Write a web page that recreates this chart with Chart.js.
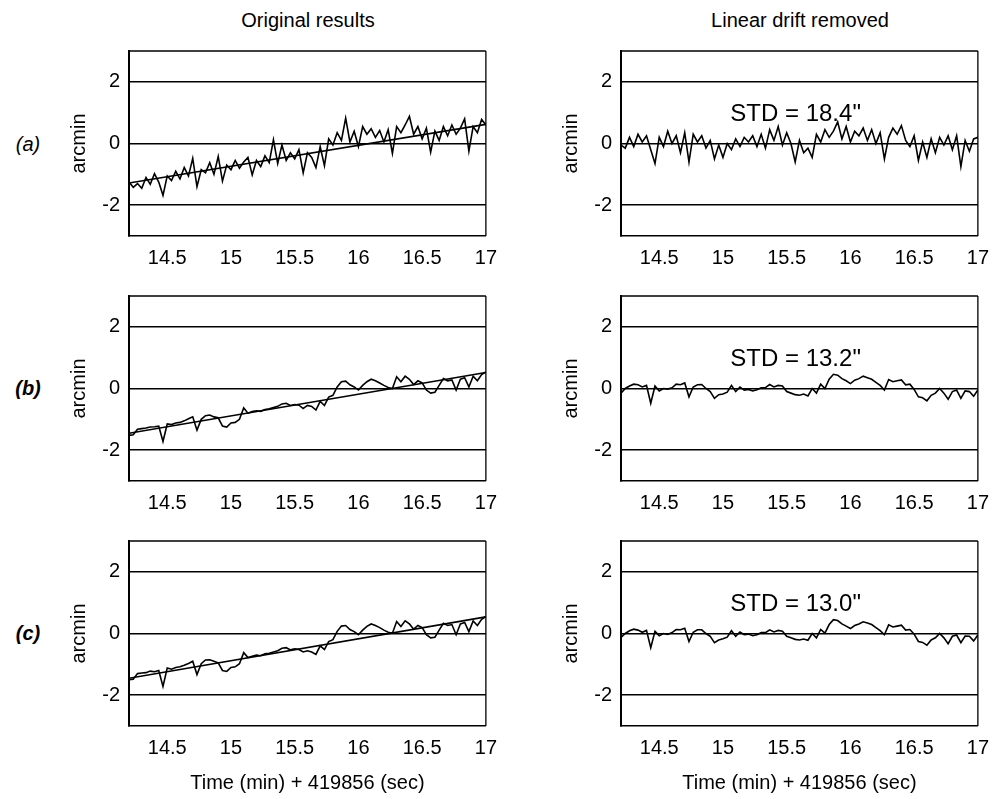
<!DOCTYPE html>
<html>
<head>
<meta charset="utf-8">
<script src="https://cdn.jsdelivr.net/npm/chart.js@4.4.0/dist/chart.umd.min.js"></script>
<style>
  html, body { margin: 0; padding: 0; background: #fff; }
  body { width: 996px; height: 799px; position: relative; overflow: hidden; font-family: "Liberation Sans", Arial, sans-serif; }
  canvas { position: absolute; }
  .lbl { position: absolute; font-size: 20px; color: #000; white-space: nowrap; transform: translate(-50%, -50%); }
</style>
</head>
<body>
<div class="lbl" style="left:308px; top:20px;">Original results</div>
<div class="lbl" style="left:800px; top:20px;">Linear drift removed</div>
<div class="lbl" style="left:28px; top:144px; font-style:italic;">(a)</div>
<div class="lbl" style="left:28px; top:388px; font-style:italic; font-weight:bold;">(b)</div>
<div class="lbl" style="left:28px; top:633px; font-style:italic; font-weight:bold;">(c)</div>

<canvas id="pa1"></canvas><canvas id="pa2"></canvas>
<canvas id="pb1"></canvas><canvas id="pb2"></canvas>
<canvas id="pc1"></canvas><canvas id="pc2"></canvas>

<script>
// sampling: every 2 s from 14.2 min to 17.0 min
const t0 = 14.2;
const dt = 1 / 30;
const xTicks = [14.5, 15, 15.5, 16, 16.5, 17];
const yTicks = [-2, 0, 2];
const trendTimes = [14.2, 17.0];

// (a) original results + linear fit
const rawA = [-1.25, -1.42, -1.30, -1.45, -1.10, -1.32, -0.98, -1.25, -1.68, -1.05,
  -1.20, -0.90, -1.15, -0.78, -1.05, -0.48, -1.40, -0.85, -0.95, -0.62,
  -1.00, -0.42, -1.22, -0.70, -0.85, -0.55, -0.80, -0.60, -0.45, -1.02,
  -0.55, -0.75, -0.40, -0.62, 0.12, -0.65, -0.05, -0.55, -0.30, -0.50,
  -0.20, -0.95, -0.30, -0.45, -0.78, -0.10, -0.72, 0.15, -0.05, 0.35,
  0.10, 0.82, 0.05, 0.40, -0.10, 0.55, 0.30, 0.48, 0.20, 0.42,
  0.05, 0.45, -0.32, 0.55, 0.35, 0.60, 0.88, 0.30, 0.55, 0.15,
  0.50, -0.28, 0.40, 0.10, 0.55, 0.25, 0.60, 0.30, 0.50, 0.80,
  -0.25, 0.55, 0.35, 0.78, 0.60];
const trendA = [-1.28, 0.62];
const resA = [-0.05, -0.15, 0.20, -0.10, 0.30, 0.05, 0.25, -0.20, -0.65, 0.20,
  -0.10, 0.40, 0.00, 0.25, -0.30, 0.35, -0.60, 0.30, 0.05, 0.25,
  -0.15, 0.10, -0.50, -0.05, -0.45, 0.00, -0.20, 0.15, -0.10, 0.20,
  0.05, 0.25, -0.10, 0.30, -0.15, 0.45, 0.10, 0.55, -0.05, 0.35,
  0.00, -0.60, 0.10, -0.30, -0.15, -0.45, 0.30, 0.05, 0.45, 0.20,
  0.40, 0.70, 0.15, 0.55, 0.05, 0.40, 0.25, 0.50, 0.10, 0.45,
  0.00, 0.35, -0.50, 0.20, 0.50, 0.30, 0.58, 0.10, -0.10, 0.25,
  -0.55, 0.05, -0.45, 0.15, -0.30, 0.20, -0.05, 0.25, -0.20, 0.25,
  -0.75, 0.10, -0.25, 0.15, 0.20];

// (b)
const rawB = [-1.52, -1.50, -1.32, -1.30, -1.28, -1.25, -1.24, -1.22, -1.72, -1.15,
  -1.17, -1.12, -1.10, -1.05, -0.98, -0.92, -1.35, -1.00, -0.88, -0.86,
  -0.92, -0.95, -1.22, -1.25, -1.12, -1.10, -1.00, -0.63, -0.80, -0.75,
  -0.72, -0.74, -0.68, -0.66, -0.62, -0.58, -0.50, -0.48, -0.55, -0.52,
  -0.54, -0.65, -0.55, -0.58, -0.70, -0.42, -0.55, -0.28, -0.22, 0.05,
  0.22, 0.24, 0.12, 0.05, -0.05, 0.10, 0.22, 0.30, 0.25, 0.18,
  0.10, 0.03, 0.00, 0.38, 0.22, 0.40, 0.30, 0.13, 0.25, 0.18,
  -0.05, -0.15, -0.12, 0.10, 0.32, 0.25, 0.28, -0.05, 0.30, 0.35,
  0.05, 0.40, 0.25, 0.45, 0.54];
const trendB = [-1.45, 0.52];
const resB = [-0.15, 0.00, 0.08, 0.14, 0.12, 0.05, 0.10, -0.48, 0.08, -0.08,
  0.00, -0.02, 0.02, 0.14, 0.12, 0.18, -0.27, 0.05, 0.12, 0.13,
  0.00, -0.10, -0.32, -0.20, -0.18, -0.12, 0.10, -0.10, 0.05, -0.05,
  -0.03, -0.08, -0.04, 0.02, 0.03, 0.13, 0.05, 0.10, 0.08, -0.10,
  -0.15, -0.20, -0.22, -0.18, -0.24, 0.00, -0.15, 0.14, 0.00, 0.30,
  0.46, 0.43, 0.32, 0.25, 0.16, 0.27, 0.32, 0.40, 0.35, 0.30,
  0.20, 0.10, -0.05, 0.29, 0.22, 0.25, 0.28, 0.12, 0.14, -0.03,
  -0.27, -0.30, -0.40, -0.22, -0.15, 0.00, -0.15, -0.35, -0.10, -0.05,
  -0.32, -0.08, -0.10, -0.25, -0.05];

// (c)
const rawC = [-1.50, -1.48, -1.30, -1.28, -1.27, -1.22, -1.24, -1.20, -1.72, -1.12,
  -1.16, -1.10, -1.08, -1.03, -0.97, -0.90, -1.33, -0.98, -0.86, -0.85,
  -0.90, -0.95, -1.20, -1.23, -1.10, -1.08, -0.98, -0.62, -0.78, -0.74,
  -0.70, -0.72, -0.66, -0.64, -0.60, -0.56, -0.48, -0.46, -0.53, -0.50,
  -0.52, -0.60, -0.56, -0.60, -0.68, -0.40, -0.52, -0.26, -0.20, 0.07,
  0.24, 0.26, 0.13, 0.06, -0.04, 0.11, 0.23, 0.31, 0.26, 0.19,
  0.11, 0.04, 0.01, 0.39, 0.23, 0.41, 0.31, 0.14, 0.26, 0.19,
  -0.04, -0.14, -0.12, 0.11, 0.33, 0.26, 0.29, -0.04, 0.31, 0.36,
  0.06, 0.41, 0.26, 0.46, 0.55];
const trendC = [-1.45, 0.54];
const resC = [-0.13, 0.00, 0.09, 0.14, 0.11, 0.04, 0.10, -0.46, 0.07, -0.07,
  0.00, -0.03, 0.03, 0.13, 0.12, 0.17, -0.26, 0.04, 0.12, 0.12,
  0.00, -0.09, -0.30, -0.21, -0.17, -0.12, 0.09, -0.09, 0.05, -0.04,
  -0.02, -0.07, -0.04, 0.03, 0.03, 0.12, 0.05, 0.10, 0.07, -0.09,
  -0.14, -0.19, -0.21, -0.18, -0.22, 0.00, -0.14, 0.13, 0.01, 0.29,
  0.45, 0.42, 0.31, 0.24, 0.16, 0.26, 0.31, 0.38, 0.34, 0.29,
  0.19, 0.09, -0.04, 0.28, 0.21, 0.24, 0.27, 0.11, 0.13, -0.02,
  -0.26, -0.29, -0.38, -0.21, -0.14, 0.00, -0.14, -0.33, -0.09, -0.05,
  -0.30, -0.08, -0.09, -0.24, -0.05];

const stdLabels = ['STD = 18.4"', 'STD = 13.2"', 'STD = 13.0"'];

const FONT = '"Liberation Sans", Arial, sans-serif';
const PAD_T = 20, PAD_R = 20, Y_W = 129, PLOT_W = 358, PLOT_H = 186;
const times = rawA.map((_, i) => t0 + i * dt);

// right and top edges of the box
const framePlugin = {
  id: 'frame',
  afterDatasetsDraw(chart) {
    const { ctx, chartArea: a } = chart;
    ctx.save();
    ctx.strokeStyle = '#000';
    ctx.lineWidth = 1.3;
    ctx.beginPath();
    ctx.moveTo(a.right, a.top);
    ctx.lineTo(a.right, a.bottom);
    ctx.moveTo(a.left, a.top);
    ctx.lineTo(a.right, a.top);
    ctx.stroke();
    ctx.restore();
  }
};

const stdPlugin = {
  id: 'stdText',
  afterDatasetsDraw(chart, args, opts) {
    if (!opts.text) return;
    const { ctx, scales } = chart;
    ctx.save();
    ctx.fillStyle = '#000';
    ctx.font = '24px ' + FONT;
    ctx.textAlign = 'center';
    ctx.textBaseline = 'alphabetic';
    ctx.fillText(opts.text, scales.x.getPixelForValue(15.57), scales.y.getPixelForValue(0.74));
    ctx.restore();
  }
};

function makePanel(id, left, plotTop, values, trend, std, xTitle) {
  const xH = xTitle ? 73 : 40;
  const cv = document.getElementById(id);
  cv.width = Y_W + PLOT_W + PAD_R;
  cv.height = PAD_T + PLOT_H + xH;
  cv.style.left = left + 'px';
  cv.style.top = (plotTop - PAD_T) + 'px';

  const datasets = [{
    data: values.map((v, i) => ({ x: times[i], y: v })),
    borderColor: '#000', borderWidth: 1.6, pointRadius: 0, tension: 0
  }];
  if (trend) {
    datasets.push({
      data: trend.map((v, i) => ({ x: trendTimes[i], y: v })),
      borderColor: '#000', borderWidth: 1.6, pointRadius: 0
    });
  }

  return new Chart(cv, {
    type: 'line',
    data: { datasets },
    options: {
      responsive: false,
      animation: false,
      layout: { padding: { top: PAD_T, right: PAD_R, left: 0, bottom: 0 } },
      plugins: {
        legend: { display: false },
        tooltip: { enabled: false },
        stdText: { text: std }
      },
      scales: {
        x: {
          type: 'linear', min: 14.2, max: 17,
          afterBuildTicks: s => { s.ticks = xTicks.map(v => ({ value: v })); },
          afterFit: s => { s.height = xH; },
          grid: { display: false, drawTicks: false },
          border: { display: true, color: '#000', width: 1.4 },
          ticks: { color: '#000', font: { family: FONT, size: 20 }, padding: 10, maxRotation: 0, autoSkip: false, callback: v => String(v) },
          title: { display: !!xTitle, text: xTitle || '', color: '#000', font: { family: FONT, size: 20 }, padding: { top: 0, bottom: 4 } }
        },
        y: {
          min: -3, max: 3,
          afterBuildTicks: s => { s.ticks = yTicks.map(v => ({ value: v })); },
          afterFit: s => { s.width = Y_W; },
          grid: { color: '#000', lineWidth: 1.4, drawTicks: false },
          border: { display: true, color: '#000', width: 2 },
          ticks: { color: '#000', font: { family: FONT, size: 20 }, padding: 9, callback: v => String(v) },
          title: { display: true, text: 'arcmin', color: '#000', font: { family: FONT, size: 20 }, padding: { top: 67, bottom: 0 } }
        }
      }
    },
    plugins: [framePlugin, stdPlugin]
  });
}

const xLabel = 'Time (min) + 419856 (sec)';
makePanel('pa1', 0, 50, rawA, trendA, null, null);
makePanel('pa2', 492, 50, resA, null, stdLabels[0], null);
makePanel('pb1', 0, 295, rawB, trendB, null, null);
makePanel('pb2', 492, 295, resB, null, stdLabels[1], null);
makePanel('pc1', 0, 540, rawC, trendC, null, xLabel);
makePanel('pc2', 492, 540, resC, null, stdLabels[2], xLabel);
</script>
</body>
</html>
